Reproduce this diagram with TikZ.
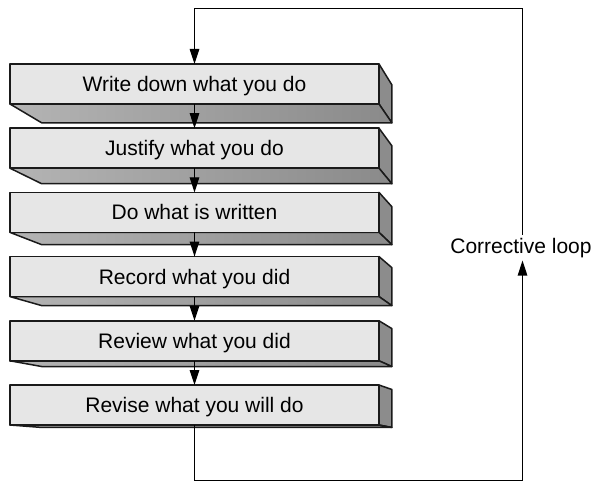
\documentclass[tikz,border=0pt]{standalone}
\usepackage{fontspec}
\setmainfont{Liberation Sans}
\usetikzlibrary{calc,arrows.meta}
\definecolor{edge}{HTML}{1A1A1A}
\definecolor{facefront}{HTML}{E6E6E6}
\definecolor{faceside}{HTML}{8C8C8C}
\definecolor{underL}{HTML}{B4B4B4}
\definecolor{underR}{HTML}{8A8A8A}
\begin{document}
\begin{tikzpicture}[x=1bp,y=-1bp,
  front/.style={draw=edge, fill=facefront, line width=1.5bp, line join=round,
    minimum width=369bp, minimum height=40bp, inner sep=0pt, outer sep=0pt,
    text height=15.2bp, text depth=0pt,
    font=\fontsize{21bp}{25bp}\selectfont},
  side/.style={draw=edge, fill=faceside, line width=1.5bp, line join=round},
  under/.style={draw=edge, left color=underL, right color=underR, line width=1.5bp, line join=round},
  flow/.style={line width=1.2bp, -{Triangle[length=15bp,width=9.5bp]}},
  loopline/.style={line width=1.2bp},
  tag/.style={font=\fontsize{21bp}{25bp}\selectfont, inner xsep=0pt, inner ysep=3bp}]
\useasboundingbox (0,0) rectangle (594,482);

% vanishing point of the perspective and depth of the slabs
\coordinate (vp) at (631,473);
\def\depth{0.051}

% the six process steps, each a slab seen in perspective
\foreach \i/\txt in {1/Write down what you do, 2/Justify what you do,
                     3/Do what is written, 4/Record what you did,
                     5/Review what you did, 6/Revise what you will do} {
  \pgfmathsetmacro\t{64+64.2*(\i-1)}
  \draw[side] (379,\t) -- ($(379,\t)!\depth!(vp)$)
              -- ($(379,\t+40)!\depth!(vp)$) -- (379,\t+40) -- cycle;
  \draw[under] (10,\t+40) -- (379,\t+40) -- ($(379,\t+40)!\depth!(vp)$)
               -- ($(10,\t+40)!\depth!(vp)$) -- cycle;
  \node[front] (b\i) at (194.5,\t+20) {\txt};
}

% flow between steps
\foreach \i [evaluate=\i as \j using int(\i+1)] in {1,...,5}
  \draw[flow] (b\i.south) -- (b\j.north);

% corrective loop around the stack
\coordinate (tl) at (194.5,8.3);
\coordinate (tr) at (522.5,8.3);
\coordinate (br) at (522.5,480.5);
\node[tag, anchor=base] (lbl) at (521,253) {Corrective loop};

\draw[loopline] (b6.south) |- (br);
\draw[flow] (br) -- (lbl.south -| br);
\draw[flow] (lbl.north -| tr) -- (tr) -- (tl) -- (b1.north);
\end{tikzpicture}
\end{document}
